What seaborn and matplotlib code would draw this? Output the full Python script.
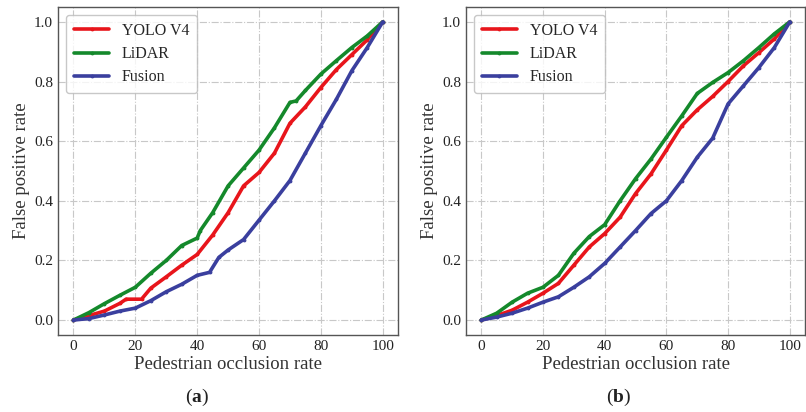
import pandas as pd
import matplotlib
matplotlib.use('Agg')
import matplotlib.pyplot as plt
import seaborn as sns

# occlusion rate grid and FPR
x_a_yolo = [0, 5, 10, 15, 17, 22, 25, 30, 35, 40, 45, 50, 55, 60, 65, 70, 75, 80, 85, 90, 95, 100]
y_a_yolo = [0, 0.015, 0.03, 0.056, 0.07, 0.07, 0.107, 0.145, 0.184, 0.22, 0.285, 0.36, 0.45, 0.495, 0.56, 0.66, 0.715, 0.78, 0.84, 0.89, 0.94, 1.0]
x_a_lidar = [0, 5, 10, 15, 20, 25, 30, 35, 40, 41, 45, 50, 55, 60, 65, 70, 72, 75, 80, 85, 90, 95, 100]
y_a_lidar = [0, 0.025, 0.055, 0.083, 0.11, 0.157, 0.2, 0.25, 0.275, 0.3, 0.36, 0.45, 0.51, 0.57, 0.645, 0.73, 0.735, 0.77, 0.825, 0.87, 0.914, 0.953, 1.0]
x_a_fusion = [0, 5, 10, 15, 20, 25, 30, 35, 40, 44, 47, 50, 55, 60, 65, 70, 75, 80, 85, 90, 95, 100]
y_a_fusion = [0, 0.005, 0.017, 0.03, 0.04, 0.065, 0.095, 0.12, 0.15, 0.16, 0.21, 0.235, 0.27, 0.335, 0.40, 0.468, 0.56, 0.652, 0.74, 0.836, 0.914, 1.0]

x_b = [0, 5, 10, 15, 20, 25, 30, 35, 40, 45, 50, 55, 60, 65, 70, 75, 80, 85, 90, 95, 100]
y_b_yolo = [0, 0.015, 0.033, 0.06, 0.09, 0.123, 0.184, 0.245, 0.29, 0.345, 0.424, 0.49, 0.57, 0.652, 0.705, 0.75, 0.80, 0.853, 0.897, 0.943, 1.0]
y_b_lidar = [0, 0.023, 0.06, 0.09, 0.11, 0.15, 0.224, 0.28, 0.32, 0.40, 0.474, 0.54, 0.613, 0.685, 0.76, 0.797, 0.83, 0.87, 0.914, 0.96, 1.0]
y_b_fusion = [0, 0.01, 0.023, 0.04, 0.06, 0.078, 0.11, 0.145, 0.19, 0.245, 0.30, 0.357, 0.40, 0.468, 0.546, 0.61, 0.725, 0.786, 0.847, 0.914, 1.0]

labels = ['YOLO V4', 'LiDAR', 'Fusion']
colors = ['#e8151b', '#14892b', '#3a3f9e']

sns.set_style('white')
plt.rcParams['font.family'] = ['Liberation Serif', 'DejaVu Serif']
plt.rcParams['mathtext.fontset'] = 'custom'
plt.rcParams['mathtext.rm'] = 'Liberation Serif'
plt.rcParams['mathtext.bf'] = 'Liberation Serif:bold'

fig = plt.figure(figsize=(8.06, 4.12), dpi=100)
ax_a = fig.add_axes([0.072, 0.187, 0.422, 0.796])
ax_b = fig.add_axes([0.578, 0.187, 0.421, 0.796])

panels = [
    (ax_a, [(x_a_yolo, y_a_yolo), (x_a_lidar, y_a_lidar), (x_a_fusion, y_a_fusion)], 'a', 0.245),
    (ax_b, [(x_b, y_b_yolo), (x_b, y_b_lidar), (x_b, y_b_fusion)], 'b', 0.767),
]

for ax, series, tag, tx in panels:
    for (xs, ys), lab, col in zip(series, labels, colors):
        df = pd.DataFrame({'x': xs, 'y': ys})
        sns.lineplot(data=df, x='x', y='y', ax=ax, color=col, label=lab,
                     linewidth=2.6, marker='.', markersize=4,
                     markeredgecolor=col, markerfacecolor=col)
    ax.set_xlim(-5, 105)
    ax.set_ylim(-0.05, 1.05)
    ax.set_xticks([0, 20, 40, 60, 80, 100])
    ax.set_yticks([0.0, 0.2, 0.4, 0.6, 0.8, 1.0])
    ax.set_yticklabels(['0.0', '0.2', '0.4', '0.6', '0.8', '1.0'])
    ax.tick_params(direction='in', labelsize=11, length=3, colors='#222222')
    ax.grid(True, linestyle='-.', color='#c8c8c8', linewidth=0.8)
    for s in ax.spines.values():
        s.set_color('#555555')
        s.set_linewidth(1.0)
    ax.set_xlabel('Pedestrian occlusion rate', fontsize=13.5, color='#333333', labelpad=2)
    ax.set_ylabel('False positive rate', fontsize=13.5, color='#333333', labelpad=3)
    leg = ax.legend(loc='upper left', fontsize=11.5, frameon=True, handlelength=2.2,
                    borderpad=0.5, labelspacing=0.45)
    leg.get_frame().set_edgecolor('#bbbbbb')
    fig.text(tx, 0.036, r'($\mathbf{%s}$)' % tag, ha='center', va='center',
             fontsize=14, color='#222222')

fig.savefig('out.png', dpi=100)
